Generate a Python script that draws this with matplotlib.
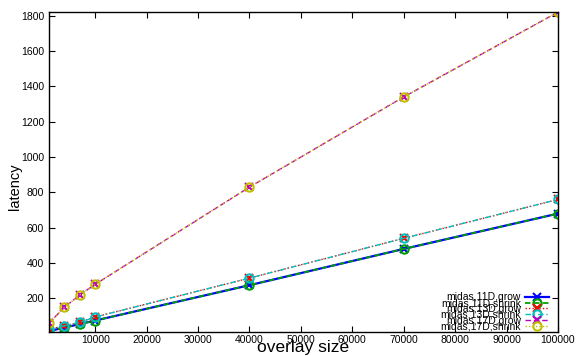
import matplotlib
matplotlib.use("Agg")
import matplotlib.pyplot as plt

plt.rcParams["font.family"] = ["Liberation Sans", "DejaVu Sans"]

sizes = [1000, 4000, 7000, 10000, 40000, 70000, 100000]

lat_11d_grow = [15, 35, 55, 75, 275, 480, 680]
lat_11d_shrink = [15, 35, 55, 75, 275, 480, 680]
lat_13d_grow = [25, 45, 65, 95, 315, 540, 760]
lat_13d_shrink = [25, 45, 65, 95, 315, 540, 760]
lat_17d_grow = [60, 150, 220, 280, 830, 1340, 1820]
lat_17d_shrink = [60, 150, 220, 280, 830, 1340, 1820]

labels = ["midas,11D,grow", "midas,11D,shrink", "midas,13D,grow",
          "midas,13D,shrink", "midas,17D,grow", "midas,17D,shrink"]

series = [lat_11d_grow, lat_11d_shrink, lat_13d_grow,
          lat_13d_shrink, lat_17d_grow, lat_17d_shrink]
colors = ["#0000ff", "#00a000", "#ff0000", "#00c0c0", "#c000c0", "#c0c000"]
styles = ["-", (0, (3, 2)), (0, (1, 1.5)), (0, (4, 2, 1, 2)), (0, (4, 2)), (0, (1, 1.5))]
markers = ["x", "o", "x", "o", "x", "o"]
widths = [1.6, 1.3, 1.0, 1.0, 1.0, 1.0]

fig = plt.figure(figsize=(5.79, 3.56), dpi=100)
ax = fig.add_axes([0.0846, 0.0674, 0.8791, 0.8986])

for y, lab, c, ls, m, lw in zip(series, labels, colors, styles, markers, widths):
    ax.plot(sizes, y, color=c, linestyle=ls, marker=m, markersize=6,
            markerfacecolor="none", markeredgewidth=1.5, linewidth=lw, label=lab)

ax.set_xlim(1000, 100000)
ax.set_ylim(10, 1820)
ax.set_xticks(range(10000, 100001, 10000))
ax.set_yticks(range(200, 1801, 200))
ax.tick_params(direction="in", top=True, right=True, labelsize=7.5,
               length=4, width=0.8)
ax.tick_params(axis="x", pad=2)
for s in ax.spines.values():
    s.set_linewidth(1.0)

ax.set_xlabel("overlay size", fontsize=12.5, va="top")
ax.xaxis.set_label_coords(0.499, -0.026)
ax.set_ylabel("latency", fontsize=10.5, va="center")
ax.yaxis.set_label_coords(-0.066, 0.455)

ax.legend(loc="lower right", bbox_to_anchor=(0.993, -0.015), frameon=False,
          markerfirst=False, alignment="right", fontsize=7.5,
          labelspacing=-0.4, handlelength=2.3, handletextpad=0.4,
          borderpad=0.0)

fig.savefig("out.png", dpi=100)
